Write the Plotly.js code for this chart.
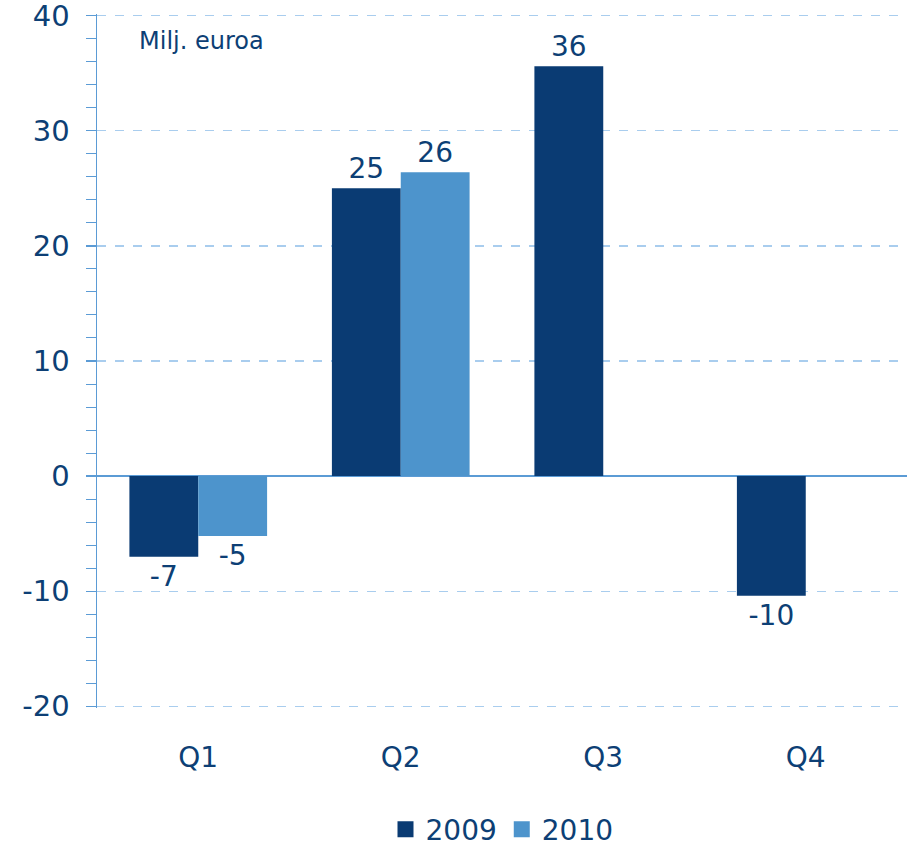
<!DOCTYPE html>
<html><head><meta charset="utf-8">
<script src="https://cdn.plot.ly/plotly-3.0.1.min.js"></script>
<style>html,body{margin:0;padding:0;background:#fff}#chart{width:907px;height:848px}</style>
</head><body><div id="chart"></div>
<script>
const categories = ["Q1", "Q2", "Q3", "Q4"];
const values2009 = [-7.0, 25.0, 35.6, -10.4];
const values2010 = [-5.2, 26.4, null, null];
const labels2009 = ["-7", "25", "36", "-10"];
const labels2010 = ["-5", "26", "", ""];
const yTickVals = [-20, -10, 0, 10, 20, 30, 40];
const seriesNames = ["2009", "2010"];
const seriesColors = ["#0a3b73", "#4d94cc"];

const textColor = "#0d3f75";
const axisColor = "#5b9bd5";
const font = "DejaVu Sans, Verdana, sans-serif";

const traces = [
  {type: "bar", name: seriesNames[0], x: categories, y: values2009, text: labels2009,
   textposition: "outside", cliponaxis: false, showlegend: false,
   textfont: {family: font, size: 28, color: textColor},
   marker: {color: seriesColors[0]}},
  {type: "bar", name: seriesNames[1], x: categories, y: values2010, text: labels2010,
   textposition: "outside", cliponaxis: false, showlegend: false,
   textfont: {family: font, size: 28, color: textColor},
   marker: {color: seriesColors[1]}}
];
seriesNames.forEach((n, i) => traces.push({
  type: "scatter", mode: "markers", name: n, x: [null], y: [null],
  marker: {symbol: "square", size: 20, color: seriesColors[i]}, showlegend: true, hoverinfo: "skip"
}));

const layout = {
  width: 907, height: 848,
  margin: {l: 97, r: 0, t: 14, b: 140, autoexpand: false},
  paper_bgcolor: "#fff", plot_bgcolor: "#fff",
  font: {family: font, color: textColor},
  barmode: "group", bargap: 0.32, bargroupgap: 0,
  showlegend: true,
  legend: {orientation: "h", x: 0.5, xanchor: "center", y: -0.175, yanchor: "middle",
           font: {size: 28, color: textColor}, itemwidth: 30, traceorder: "normal", itemclick: false},
  xaxis: {showline: false, ticks: "", showgrid: false, zeroline: false, automargin: false,
          tickfont: {size: 28, color: textColor}, ticklabelstandoff: 30},
  yaxis: {range: [-20.15, 40.15], tickvals: yTickVals, ticktext: yTickVals.map(String), automargin: false,
          ticklabeloverflow: "allow",
          showline: true, linecolor: axisColor, linewidth: 1.5,
          ticks: "outside", ticklen: 10, tickcolor: axisColor, tickwidth: 1.2,
          minor: {dtick: 2, ticks: "outside", ticklen: 10, tickcolor: axisColor, tickwidth: 1, showgrid: false},
          showgrid: true, gridcolor: "#a9cdee", griddash: "dash", gridwidth: 1.2,
          zeroline: true, zerolinecolor: axisColor, zerolinewidth: 1.5,
          tickfont: {size: 29, color: textColor}, ticklabelstandoff: 10},
  annotations: [{xref: "paper", yref: "paper", x: 0.049, y: 0.961, xanchor: "left", yanchor: "middle",
                 text: "Milj. euroa", showarrow: false, font: {size: 24, color: textColor}}]
};

Plotly.newPlot("chart", traces, layout, {displayModeBar: false, staticPlot: true});
</script></body></html>
